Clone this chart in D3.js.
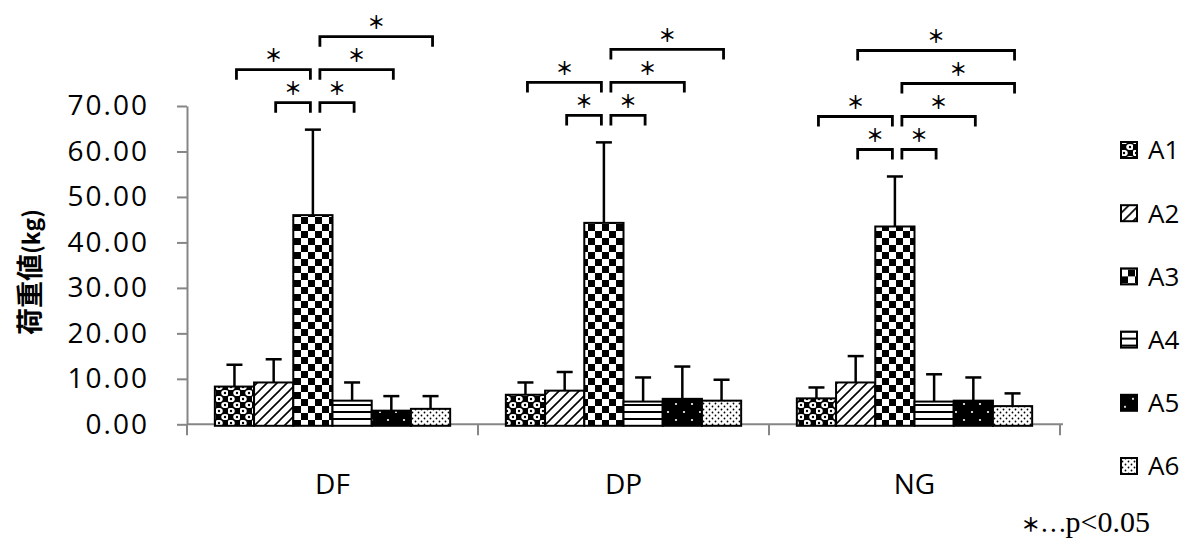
<!DOCTYPE html>
<html>
<head>
<meta charset="utf-8">
<script src="https://cdn.jsdelivr.net/npm/d3@7"></script>
<style>
body { margin: 0; background: #fff; }
</style>
</head>
<body>
<div id="chart"></div>
<script>
const groups = ['DF', 'DP', 'NG'];
const series = ['A1', 'A2', 'A3', 'A4', 'A5', 'A6'];
const yTicks = [0, 10, 20, 30, 40, 50, 60, 70];

// mean and SD per group (A1..A6)
const meanDF = [8.3, 9.2, 46.0, 5.2, 3.0, 3.4];
const sdDF = [4.8, 5.1, 18.8, 4.0, 3.2, 2.8];
const meanDP = [6.5, 7.4, 44.3, 5.0, 5.6, 5.2];
const sdDP = [2.7, 4.1, 17.7, 5.3, 7.1, 4.6];
const meanNG = [5.7, 9.2, 43.5, 5.0, 5.2, 4.0];
const sdNG = [2.4, 5.8, 11.0, 6.0, 5.1, 2.8];

// significant pairs: [from, to, bracket level]
const sigDF = [['A2', 'A3', 1], ['A3', 'A4', 1], ['A1', 'A3', 2], ['A3', 'A5', 2], ['A3', 'A6', 3]];
const sigDP = [['A2', 'A3', 1], ['A3', 'A4', 1], ['A1', 'A3', 2], ['A3', 'A5', 2], ['A3', 'A6', 3]];
const sigNG = [['A2', 'A3', 1], ['A3', 'A4', 1], ['A1', 'A3', 2], ['A3', 'A5', 2], ['A3', 'A6', 3], ['A2', 'A6', 4]];

const meanBy = { DF: meanDF, DP: meanDP, NG: meanNG };
const sdBy = { DF: sdDF, DP: sdDP, NG: sdNG };
const sigBy = { DF: sigDF, DP: sigDP, NG: sigNG };

const W = 1186, H = 540;
const svg = d3.select('#chart').append('svg')
	.attr('width', W)
	.attr('height', H)
	.style('font-family', '"Open Sans", sans-serif');

// fill patterns
const defs = svg.append('defs');
function addPattern(id, w, h, draw) {
	const p = defs.append('pattern')
		.attr('id', id)
		.attr('patternUnits', 'userSpaceOnUse')
		.attr('width', w)
		.attr('height', h);
	draw(p);
}
addPattern('pA1', 12, 12, p => {
	p.append('rect').attr('width', 12).attr('height', 12).attr('fill', '#000');
	[[3, 3], [9, 9]].forEach(c => {
		p.append('ellipse').attr('cx', c[0]).attr('cy', c[1]).attr('rx', 3.8).attr('ry', 3.1).attr('fill', '#fff');
		p.append('circle').attr('cx', c[0]).attr('cy', c[1]).attr('r', 1.2).attr('fill', '#000');
	});
});
addPattern('pA2', 10, 10, p => {
	p.append('rect').attr('width', 10).attr('height', 10).attr('fill', '#fff');
	p.append('path').attr('d', 'M-1,1 l2,-2 M0,10 l10,-10 M9,11 l2,-2')
		.attr('stroke', '#000').attr('stroke-width', 1.6);
});
addPattern('pA3', 14, 14, p => {
	p.append('rect').attr('width', 14).attr('height', 14).attr('fill', '#fff');
	p.append('rect').attr('width', 7).attr('height', 7).attr('fill', '#000');
	p.append('rect').attr('x', 7).attr('y', 7).attr('width', 7).attr('height', 7).attr('fill', '#000');
});
addPattern('pA4', 8, 7, p => {
	p.append('rect').attr('width', 8).attr('height', 7).attr('fill', '#fff');
	p.append('rect').attr('y', 5).attr('width', 8).attr('height', 2).attr('fill', '#000');
});
addPattern('pA5', 16, 16, p => {
	p.append('rect').attr('width', 16).attr('height', 16).attr('fill', '#000');
	p.append('circle').attr('cx', 4).attr('cy', 4).attr('r', 1.1).attr('fill', '#fff');
	p.append('circle').attr('cx', 12).attr('cy', 12).attr('r', 1.1).attr('fill', '#fff');
});
addPattern('pA6', 6, 6, p => {
	p.append('rect').attr('width', 6).attr('height', 6).attr('fill', '#fff');
	p.append('circle').attr('cx', 1.5).attr('cy', 1.5).attr('r', 0.9).attr('fill', '#000');
	p.append('circle').attr('cx', 4.5).attr('cy', 4.5).attr('r', 0.9).attr('fill', '#000');
});
const fillOf = s => `url(#p${s})`;

// scales
const x0 = d3.scaleBand().domain(groups).range([187, 1060]).padding(0);
const x1 = d3.scaleBand().domain(series).range([0, x0.bandwidth()])
	.paddingInner(0).paddingOuter(0.71);
const y = d3.scaleLinear().domain([0, 70]).range([424.3, 106]);
const cx = (g, s) => x0(g) + x1(s) + x1.bandwidth() / 2;

const axisColor = '#868686';

// y axis
const yAxis = svg.append('g')
	.attr('transform', `translate(${x0.range()[0]},0)`)
	.call(d3.axisLeft(y).tickValues(yTicks).tickFormat(d3.format('.2f')).tickSize(10).tickPadding(28).tickSizeOuter(0));
yAxis.select('.domain').attr('stroke', axisColor).attr('stroke-width', 2);
yAxis.selectAll('.tick line').attr('stroke', axisColor).attr('stroke-width', 2);
yAxis.selectAll('.tick text')
	.attr('fill', '#000')
	.style('font-size', '28px')
	.style('letter-spacing', '2px')
	.style('font-family', '"Open Sans", sans-serif');

// x axis (line + category boundary ticks)
const xAxisG = svg.append('g');
xAxisG.append('line')
	.attr('x1', x0.range()[0]).attr('x2', x0.range()[1] + 3)
	.attr('y1', y(0)).attr('y2', y(0))
	.attr('stroke', axisColor).attr('stroke-width', 2);
xAxisG.selectAll('line.bound')
	.data(groups.map(g => x0(g)).concat([x0.range()[1]]))
	.enter().append('line')
	.attr('class', 'bound')
	.attr('x1', d => d).attr('x2', d => d)
	.attr('y1', y(0)).attr('y2', y(0) + 11)
	.attr('stroke', axisColor).attr('stroke-width', 2);
xAxisG.selectAll('text')
	.data(groups)
	.enter().append('text')
	.attr('x', g => x0(g) + x0.bandwidth() / 2)
	.attr('y', 494)
	.attr('text-anchor', 'middle')
	.style('font-size', '28px')
	.text(g => g);

// y label
svg.append('text')
	.attr('transform', 'translate(40,272) rotate(-90)')
	.attr('text-anchor', 'middle')
	.style('font-family', '"Noto Sans CJK JP", sans-serif')
	.style('font-weight', 'bold')
	.style('font-size', '27px')
	.call(t => {
		t.append('tspan').text('荷重値');
		t.append('tspan').style('font-size', '23px').text('(kg)');
	});

// bars
const rows = [];
groups.forEach(g => series.forEach((s, i) => rows.push({ g, s, mean: meanBy[g][i], sd: sdBy[g][i] })));

const barG = svg.append('g');
barG.selectAll('rect')
	.data(rows)
	.enter().append('rect')
	.attr('x', d => x0(d.g) + x1(d.s))
	.attr('y', d => y(d.mean))
	.attr('width', x1.bandwidth())
	.attr('height', d => y(0) - y(d.mean) + 1.5)
	.attr('fill', d => fillOf(d.s))
	.attr('stroke', '#000')
	.attr('stroke-width', 2);

// error bars (upper only)
const errG = svg.append('g').attr('stroke', '#000').attr('stroke-width', 2.5);
errG.selectAll('line.stem')
	.data(rows)
	.enter().append('line')
	.attr('class', 'stem')
	.attr('x1', d => cx(d.g, d.s)).attr('x2', d => cx(d.g, d.s))
	.attr('y1', d => y(d.mean)).attr('y2', d => y(d.mean + d.sd));
errG.selectAll('line.cap')
	.data(rows)
	.enter().append('line')
	.attr('class', 'cap')
	.attr('x1', d => cx(d.g, d.s) - 8).attr('x2', d => cx(d.g, d.s) + 8)
	.attr('y1', d => y(d.mean + d.sd)).attr('y2', d => y(d.mean + d.sd));

// significance brackets
const brackets = [];
groups.forEach(g => {
	const i3 = series.indexOf('A3');
	const top = y(meanBy[g][i3] + sdBy[g][i3]);
	sigBy[g].forEach(([a, b, level]) => {
		const xa = cx(g, a) + (a === 'A3' ? 7 : 2);
		const xb = cx(g, b) + (b === 'A3' ? -2.5 : 2);
		brackets.push({ xa, xb, yy: top - 27 - 33 * (level - 1) });
	});
});
const brG = svg.append('g');
brG.selectAll('path')
	.data(brackets)
	.enter().append('path')
	.attr('d', d => `M${d.xa},${d.yy + 10}V${d.yy}H${d.xb}V${d.yy + 10}`)
	.attr('fill', 'none')
	.attr('stroke', '#000')
	.attr('stroke-width', 2.8);
brG.selectAll('text')
	.data(brackets)
	.enter().append('text')
	.attr('x', d => (d.xa + d.xb) / 2)
	.attr('y', d => d.yy - 14)
	.attr('dy', '0.35em')
	.attr('text-anchor', 'middle')
	.attr('fill', '#000')
	.style('font-family', '"Noto Sans CJK JP", sans-serif')
	.style('font-weight', 'bold')
	.style('font-size', '18px')
	.text('＊');

// legend
const legend = svg.append('g').attr('transform', 'translate(1121,0)');
const legendY = d3.scalePoint().domain(series).range([150, 466]);
const item = legend.selectAll('g')
	.data(series)
	.enter().append('g')
	.attr('transform', s => `translate(0,${legendY(s)})`);
item.append('rect')
	.attr('x', 0).attr('y', -8)
	.attr('width', 16).attr('height', 16)
	.attr('fill', s => fillOf(s))
	.attr('stroke', '#000')
	.attr('stroke-width', 2);
item.append('text')
	.attr('x', 27).attr('y', 0)
	.attr('dy', '0.36em')
	.style('font-size', '26px')
	.text(s => s);

// footnote
svg.append('text')
	.attr('x', 1150).attr('y', 532)
	.attr('text-anchor', 'end')
	.attr('fill', '#000')
	.style('font-family', '"Liberation Serif", "Noto Sans CJK JP", serif')
	.style('font-size', '30px')
	.call(t => {
		t.append('tspan').style('font-family', '"Noto Sans CJK JP", sans-serif').style('font-weight', 'bold').style('font-size', '19px').text('＊');
		t.append('tspan').style('font-family', '"Noto Sans CJK JP", sans-serif').style('font-size', '24px').text('…');
		t.append('tspan').text('p<0.05');
	});
</script>
</body>
</html>
